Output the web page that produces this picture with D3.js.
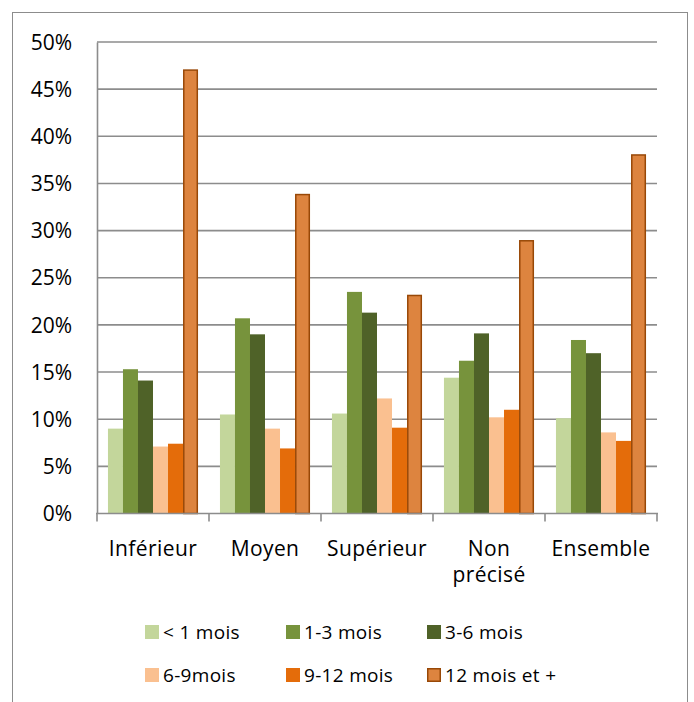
<!DOCTYPE html>
<html><head><meta charset="utf-8">
<script src="https://cdn.jsdelivr.net/npm/d3@7"></script>
<style>body{margin:0;background:#fff}svg{display:block}text{font-family:"Open Sans",sans-serif;fill:#000}</style>
</head><body><svg id="c" width="694" height="702"></svg>
<script>
const categories = [["Inférieur"],["Moyen"],["Supérieur"],["Non","précisé"],["Ensemble"]];
const seriesNames = ["< 1 mois","1-3 mois","3-6 mois","6-9mois","9-12 mois","12 mois et +"];
const lt1 = [9.0, 10.5, 10.6, 14.4, 10.1];
const m1_3 = [15.3, 20.7, 23.5, 16.2, 18.4];
const m3_6 = [14.1, 19.0, 21.3, 19.1, 17.0];
const m6_9 = [7.1, 9.0, 12.2, 10.2, 8.6];
const m9_12 = [7.4, 6.9, 9.1, 11.0, 7.7];
const m12p = [47.1, 33.9, 23.2, 29.0, 38.1];
const yTicks = [0,5,10,15,20,25,30,35,40,45,50];
const fills = ["#c3d69b","#77933c","#4f6228","#fac090","#e46c0a","#dd843f"];
const strokes = [null,null,null,null,null,"#984807"];
const series = [lt1,m1_3,m3_6,m6_9,m9_12,m12p];

const svg = d3.select("#c");
svg.append("rect").attr("x",12.5).attr("y",12.5).attr("width",675).attr("height",700)
  .attr("fill","none").attr("stroke","#8c8c8c").attr("stroke-width",1);

const L=97, R=657, T=42, B=513.5;
const x0 = d3.scaleBand().domain(d3.range(categories.length)).range([L,R]).padding(0);
const x1 = d3.scaleBand().domain(d3.range(series.length)).range([0,x0.bandwidth()]).paddingInner(0).paddingOuter(0.73);
const y = d3.scaleLinear().domain([0,50]).range([B,T]);

// gridlines
svg.append("g").selectAll("line").data(yTicks.filter(d=>d>0)).join("line")
  .attr("x1",L).attr("x2",R).attr("y1",d=>y(d)).attr("y2",d=>y(d))
  .attr("stroke","#8c8c8c").attr("stroke-width",1.6);

// bars
series.forEach((vals,si)=>{
  svg.append("g").selectAll("rect").data(vals).join("rect")
    .attr("x",(d,i)=>x0(i)+x1(si)+(strokes[si]?0.75:0))
    .attr("width",x1.bandwidth()-(strokes[si]?1.5:0))
    .attr("y",d=>y(d)+(strokes[si]?0.75:0))
    .attr("height",d=>B-y(d)-(strokes[si]?0.75:0))
    .attr("fill",fills[si])
    .attr("stroke",strokes[si]||"none").attr("stroke-width",1.5);
});

// y axis
const ya = svg.append("g").attr("transform",`translate(${L},0)`)
  .call(d3.axisLeft(y).tickValues(yTicks).tickFormat(d=>d+"%").tickSize(0).tickPadding(25));
ya.select(".domain").attr("stroke","#8c8c8c").attr("stroke-width",1.6);
ya.selectAll("text").attr("font-size",21).attr("font-family","'Open Sans',sans-serif").attr("dy","0.34em");

// x axis
svg.append("line").attr("x1",L-1).attr("x2",R+1).attr("y1",B).attr("y2",B).attr("stroke","#8c8c8c").attr("stroke-width",1.6);
svg.append("g").selectAll("line").data(d3.range(categories.length+1)).join("line")
  .attr("x1",i=>L+i*x0.bandwidth()).attr("x2",i=>L+i*x0.bandwidth())
  .attr("y1",B).attr("y2",B+8).attr("stroke","#8c8c8c").attr("stroke-width",1.6);
const xl = svg.append("g");
categories.forEach((lines,i)=>{
  const t = xl.append("text").attr("x",x0(i)+x0.bandwidth()/2).attr("y",555.5)
    .attr("text-anchor","middle").attr("font-size",21).attr("letter-spacing",0.4);
  lines.forEach((ln,j)=>t.append("tspan").attr("x",x0(i)+x0.bandwidth()/2).attr("dy",j?26:0).text(ln));
});

// legend
const lgX = [145,286,427], lgY = [625,668];
seriesNames.forEach((n,i)=>{
  const gx = lgX[i%3], gy = lgY[Math.floor(i/3)];
  svg.append("rect").attr("x",gx+(strokes[i]?0.75:0)).attr("y",gy+(strokes[i]?0.75:0))
    .attr("width",strokes[i]?12.5:14).attr("height",strokes[i]?12.5:14)
    .attr("fill",fills[i]).attr("stroke",strokes[i]||"none").attr("stroke-width",1.5);
  svg.append("text").attr("x",gx+18).attr("y",gy+13.5).attr("font-size",19).attr("letter-spacing",0.3).text(n);
});
</script></body></html>
